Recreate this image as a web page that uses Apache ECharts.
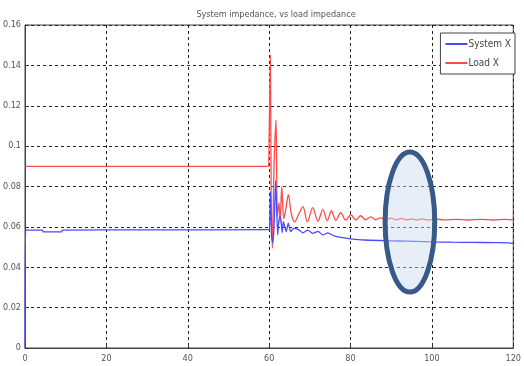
<!DOCTYPE html>
<html><head><meta charset="utf-8">
<script src="https://cdn.jsdelivr.net/npm/echarts@6/dist/echarts.min.js"></script>
<style>html,body{margin:0;padding:0;background:#fff}#c{width:524px;height:366px}</style>
</head><body><div id="c"></div>
<script>
var titleText = 'System impedance, vs load impedance';
var seriesNames = ['System X', 'Load X'];
var xTicks = [0, 20, 40, 60, 80, 100, 120];
var yTicks = [0, 0.02, 0.04, 0.06, 0.08, 0.1, 0.12, 0.14, 0.16];

var sysT = [0,0.15,4.3,4.5,9,9.2,30,59.9,60.1,60.3,60.6,60.9,61.2,61.6,62.1,62.5,62.8,63.2,63.5,64.2,64.7,65.3,66.0,67.1,68.3,69.5,70.7,72,73.2,74.4,76,77.6,80.1,83.3,88.2,92,96,100,105,110,115,119,120];
var sysX = [0,0.0584,0.0584,0.0575,0.0575,0.0584,0.0585,0.0586,0.0586,0.0774,0.055,0.052,0.06,0.083,0.056,0.065,0.065,0.0572,0.0626,0.0576,0.0619,0.0576,0.0593,0.0588,0.0571,0.0584,0.0568,0.0578,0.056,0.057,0.0555,0.0548,0.0541,0.0535,0.0532,0.053,0.0528,0.0526,0.0524,0.0523,0.0522,0.0521,0.0517];

var loadT = [0,59.9,60.0,60.3,60.5,60.8,61.2,61.7,62.0,62.4,62.7,63.1,63.6,64.2,64.7,65.5,66.3,67.2,68.3,69.4,70.7,72.0,73.2,74.3,75.3,76.4,77.6,78.8,80.1,81.3,82.5,83.7,85.0,86.2,87.4,88.6,90,91.2,92.5,93.7,95,96.3,97.5,99,101,103,106,109,112,115,118,120];
var loadX = [0.09,0.09,0.09,0.145,0.075,0.0494,0.09,0.113,0.065,0.072,0.062,0.080,0.064,0.070,0.076,0.066,0.0625,0.066,0.070,0.0625,0.0695,0.0628,0.0687,0.063,0.068,0.0632,0.067,0.0633,0.066,0.0634,0.0655,0.0635,0.065,0.0636,0.0645,0.0636,0.0643,0.0635,0.0642,0.0635,0.064,0.0634,0.064,0.0634,0.0638,0.0635,0.0637,0.0634,0.0637,0.0634,0.0637,0.0635];

// annotation ellipse in data units: center and radii
var ellipseCenter = [94.6, 0.0624];
var ellipseRadius = [6.1, 0.0347];

function pairs(t, v){ return t.map(function(x,i){ return [x, v[i]]; }); }

var font = '"Liberation Sans Narrow", "DejaVu Sans Condensed", "Liberation Sans", sans-serif';
var chart = echarts.init(document.getElementById('c'), null, {renderer:'canvas'});
var gridLine = {show:true, lineStyle:{color:'#222', width:1, type:[3,3]}};
chart.setOption({
  backgroundColor:'#fff',
  animation:false,
  title:{text:titleText, left:271, top:5, textAlign:'center',
    textStyle:{fontSize:9, fontWeight:'normal', color:'#555', fontFamily:font}},
  legend:{orient:'vertical', right:9, top:33, backgroundColor:'#fff', borderColor:'#444', borderWidth:1,
    padding:[6,4,6,5], itemGap:9, itemWidth:22, itemHeight:2, icon:'rect',
    textStyle:{fontSize:10, color:'#444', fontFamily:font, padding:[0,0,0,-4]},
    data:seriesNames},
  grid:{left:25, right:7, top:25, bottom:18, show:true, borderColor:'#444', borderWidth:1},
  xAxis:{type:'value', min:xTicks[0], max:xTicks[xTicks.length-1], interval:20,
    axisLine:{show:true, onZero:false, lineStyle:{color:'#444'}},
    axisTick:{show:true, inside:true, length:4, lineStyle:{color:'#333'}},
    axisLabel:{fontSize:9, color:'#555', fontFamily:font, margin:6},
    splitLine:gridLine},
  yAxis:{type:'value', min:yTicks[0], max:yTicks[yTicks.length-1], interval:0.02,
    axisLine:{show:true, lineStyle:{color:'#444'}},
    axisTick:{show:true, inside:true, length:4, lineStyle:{color:'#333'}},
    axisLabel:{fontSize:9, color:'#555', fontFamily:font, margin:4},
    splitLine:gridLine},
  series:[
    {name:seriesNames[0], type:'line', data:pairs(sysT, sysX), showSymbol:false, symbol:'none', smooth:0.2,
      lineStyle:{color:'#4a4aff', width:1.3}, itemStyle:{color:'#4a4aff'}, z:3},
    {name:seriesNames[1], type:'line', data:pairs(loadT, loadX), showSymbol:false, symbol:'none', smooth:0.3,
      lineStyle:{color:'#ff4a4a', width:1.3}, itemStyle:{color:'#ff4a4a'}, z:2}
  ]
});
var c = chart.convertToPixel({gridIndex:0}, ellipseCenter);
var e = chart.convertToPixel({gridIndex:0}, [ellipseCenter[0]+ellipseRadius[0], ellipseCenter[1]+ellipseRadius[1]]);
chart.setOption({graphic:[{type:'ellipse', shape:{cx:c[0], cy:c[1], rx:Math.abs(e[0]-c[0]), ry:Math.abs(c[1]-e[1])},
  style:{fill:'rgba(205,218,238,0.45)', stroke:'#385a88', lineWidth:5}, z:100}]});
</script></body></html>
